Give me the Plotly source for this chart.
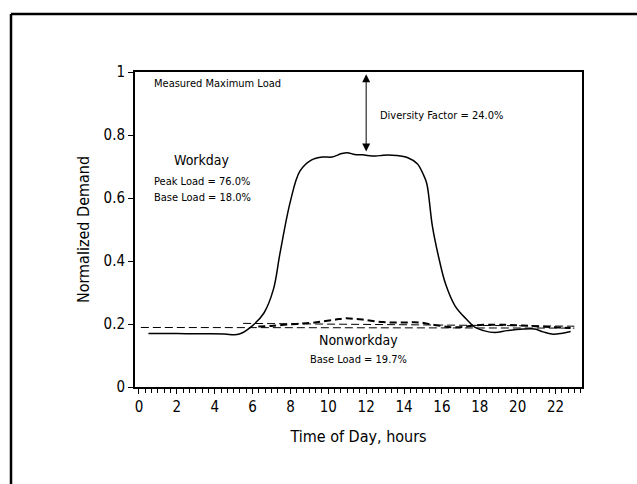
import plotly.graph_objects as go

# Workday (solid) curve
work_hours = [0.5, 1.5, 2.5, 3.5, 4.5, 5.3, 6.0, 6.6, 7.1, 7.45, 8.0, 8.5, 9.1, 9.7, 10.2, 10.7, 11.0,
              11.4, 11.8, 12.5, 12.9, 13.6, 14.2, 14.7, 15.0, 15.2, 15.5, 15.86, 16.2, 16.7, 17.3,
              17.76, 18.2, 18.8, 19.45, 20.3, 20.9, 21.35, 21.8, 22.3, 22.8]
work_load = [0.170, 0.170, 0.169, 0.169, 0.168, 0.168, 0.195, 0.235, 0.310, 0.425, 0.590, 0.685,
             0.720, 0.730, 0.730, 0.741, 0.744, 0.738, 0.737, 0.733, 0.736, 0.735, 0.728, 0.709,
             0.677, 0.646, 0.510, 0.404, 0.326, 0.257, 0.215, 0.189, 0.179, 0.173, 0.179, 0.184,
             0.184, 0.175, 0.168, 0.170, 0.176]

# Nonworkday (dashed) curve
nonwork_hours = [6.3, 7.0, 8.0, 9.0, 9.7, 10.4, 10.9, 11.8, 12.9, 14.0, 14.8, 15.6, 16.5, 17.2,
                 17.8, 18.8, 19.5, 20.3, 21.2, 22.0, 22.8]
nonwork_load = [0.192, 0.194, 0.199, 0.203, 0.208, 0.214, 0.218, 0.214, 0.206, 0.205, 0.205,
                0.197, 0.190, 0.191, 0.196, 0.198, 0.197, 0.195, 0.192, 0.190, 0.187]

# Thin dashed reference lines
ref1_hours = [0.1, 23.0]
ref1_load = [0.189, 0.187]
ref2_hours = [5.5, 23.0]
ref2_load = [0.202, 0.193]

x_tick_vals = list(range(0, 24, 2))
x_tick_text = [str(v) for v in x_tick_vals]
y_tick_vals = [0, 0.2, 0.4, 0.6, 0.8, 1.0]
y_tick_text = ["0", "0.2", "0.4", "0.6", "0.8", "1"]

FONT = "DejaVu Sans Condensed, Liberation Sans Narrow, Liberation Sans, Arial, sans-serif"

fig = go.Figure()
fig.add_trace(go.Scatter(x=ref1_hours, y=ref1_load, mode="lines",
                         line=dict(color="black", width=1, dash="8px,4px"), showlegend=False))
fig.add_trace(go.Scatter(x=ref2_hours, y=ref2_load, mode="lines",
                         line=dict(color="black", width=1, dash="8px,4px"), showlegend=False))
fig.add_trace(go.Scatter(x=nonwork_hours, y=nonwork_load, mode="lines", line_shape="spline",
                         line=dict(color="black", width=2, dash="7px,4px"), showlegend=False))
fig.add_trace(go.Scatter(x=work_hours, y=work_load, mode="lines", line_shape="spline",
                         line=dict(color="black", width=1.5), showlegend=False))

ann = []
def txt(x, y, s, size, xanchor="left"):
    ann.append(dict(x=x, y=y, xref="x", yref="y", text=s, showarrow=False,
                    xanchor=xanchor, yanchor="middle",
                    font=dict(family=FONT, size=size, color="black")))

txt(0.69, 0.965, "Measured Maximum Load", 11)
txt(3.33, 0.72, "Workday", 14, "center")
txt(0.69, 0.651, "Peak Load = 76.0%", 11)
txt(0.69, 0.603, "Base Load = 18.0%", 11)
txt(12.65, 0.863, "Diversity Factor = 24.0%", 11)
txt(11.6, 0.149, "Nonworkday", 14, "center")
txt(11.6, 0.086, "Base Load = 19.7%", 11, "center")

ann.append(dict(x=12, y=0.748, ax=12, ay=0.998, xref="x", yref="y", axref="x", ayref="y",
                text="", showarrow=True, arrowhead=2, arrowside="end+start",
                arrowsize=1.6, arrowwidth=1, arrowcolor="black"))

fig.update_layout(
    width=637, height=484,
    margin=dict(l=135, r=55, t=72, b=97),
    paper_bgcolor="white", plot_bgcolor="white",
    font=dict(family=FONT, color="black"),
    annotations=ann,
    shapes=[
        dict(type="line", xref="paper", yref="paper", x0=-0.2774, x1=1.2, y0=1.1841, y1=1.1841,
             line=dict(color="black", width=2.5)),
        dict(type="line", xref="paper", yref="paper", x0=-0.2774, x1=-0.2774, y0=1.1841, y1=-0.35,
             line=dict(color="black", width=2.5)),
    ],
)
fig.update_xaxes(range=[-0.21, 23.4], tickvals=x_tick_vals, ticktext=x_tick_text,
                 ticks="outside", ticklen=5, tickwidth=1, tickcolor="black",
                 minor=dict(dtick=1/3, tick0=0, ticks="outside", ticklen=4, tickcolor="black"),
                 showgrid=False, zeroline=False, showline=True, linecolor="black", linewidth=2,
                 mirror=True, tickfont=dict(size=15, family=FONT),
                 title=dict(text="Time of Day, hours", font=dict(size=16, family=FONT), standoff=16))
fig.update_yaxes(range=[0, 1], tickvals=y_tick_vals, ticktext=y_tick_text,
                 ticks="outside", ticklen=5, tickwidth=1, tickcolor="black",
                 showgrid=False, zeroline=False, showline=True, linecolor="black", linewidth=2,
                 mirror=True, tickfont=dict(size=15, family=FONT),
                 title=dict(text="Normalized Demand", font=dict(size=16, family=FONT), standoff=10))

fig.write_html("out.html")
